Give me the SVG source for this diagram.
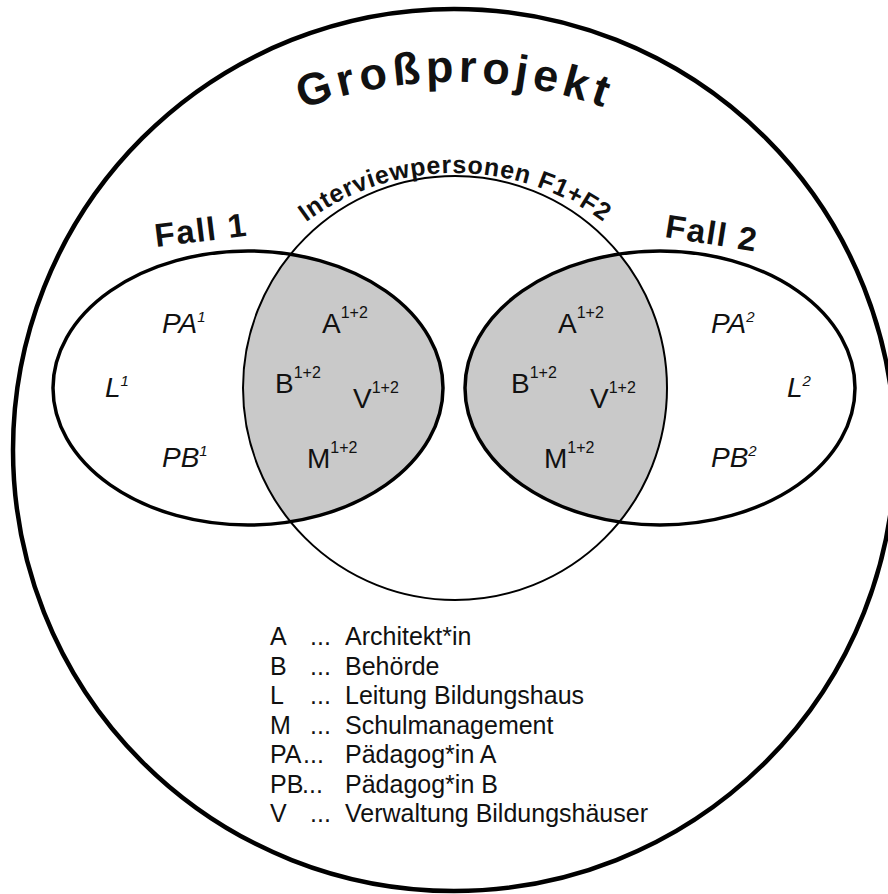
<svg xmlns="http://www.w3.org/2000/svg" width="888" height="894" viewBox="0 0 888 894">
<style>
.ln{fill:none;stroke:#000}
.t{font-family:"Liberation Sans",Arial,sans-serif;fill:#111}
.lab{font-size:28px}
.it{font-style:italic}
.sup{font-size:16px}
.isup{font-size:15px}
.leg{font-size:25px}
</style>
<defs>
<clipPath id="cl1"><ellipse cx="248" cy="388" rx="195" ry="137"/></clipPath>
<clipPath id="cl2"><ellipse cx="660" cy="388" rx="195" ry="137"/></clipPath>
<path id="arcG" d="M 5 532 A 450 450 0 0 1 905 532"/>
<path id="arcI" d="M 205 423 A 250 250 0 0 1 705 423"/>
</defs>
<rect width="888" height="894" fill="#fff"/>

<g id="shading">
<circle cx="455" cy="388" r="212" fill="#c9c9c9" clip-path="url(#cl1)"/>
<circle cx="455" cy="388" r="212" fill="#c9c9c9" clip-path="url(#cl2)"/>
</g>

<g id="grossprojekt">
<circle class="ln" cx="454" cy="450" r="441" stroke-width="4.5"/>
<text class="t" font-size="45" font-weight="bold" letter-spacing="5" text-anchor="middle"><textPath href="#arcG" startOffset="50%">Großprojekt</textPath></text>
</g>

<g id="interviewpersonen">
<circle class="ln" cx="455" cy="388" r="212" stroke-width="2"/>
<text class="t" font-size="25" font-weight="bold" letter-spacing="0.8" text-anchor="middle"><textPath href="#arcI" startOffset="50%">Interviewpersonen F1+F2</textPath></text>
</g>

<g id="fall1">
<ellipse class="ln" cx="248" cy="388" rx="195" ry="137" stroke-width="3.5"/>
<text class="t" font-size="33" font-weight="bold" letter-spacing="1.5" transform="translate(156 247) rotate(-7)">Fall 1</text>
<text class="t lab it" x="162" y="333">PA<tspan class="isup" dy="-11">1</tspan></text>
<text class="t lab it" x="105" y="397">L<tspan class="isup" dy="-11">1</tspan></text>
<text class="t lab it" x="162" y="467">PB<tspan class="isup" dy="-11">1</tspan></text>
</g>

<g id="fall2">
<ellipse class="ln" cx="660" cy="388" rx="195" ry="137" stroke-width="3.5"/>
<text class="t" font-size="33" font-weight="bold" letter-spacing="1.5" transform="translate(664 237) rotate(9)">Fall 2</text>
<text class="t lab it" x="711" y="333">PA<tspan class="isup" dy="-11">2</tspan></text>
<text class="t lab it" x="787" y="397">L<tspan class="isup" dy="-11">2</tspan></text>
<text class="t lab it" x="711" y="467">PB<tspan class="isup" dy="-11">2</tspan></text>
</g>

<g id="overlap1">
<text class="t lab" x="322" y="333">A<tspan class="sup" dy="-15">1+2</tspan></text>
<text class="t lab" x="275" y="393">B<tspan class="sup" dy="-15">1+2</tspan></text>
<text class="t lab" x="353" y="408">V<tspan class="sup" dy="-15">1+2</tspan></text>
<text class="t lab" x="307" y="468">M<tspan class="sup" dy="-15">1+2</tspan></text>
</g>

<g id="overlap2">
<text class="t lab" x="558" y="333">A<tspan class="sup" dy="-15">1+2</tspan></text>
<text class="t lab" x="511" y="393">B<tspan class="sup" dy="-15">1+2</tspan></text>
<text class="t lab" x="590" y="408">V<tspan class="sup" dy="-15">1+2</tspan></text>
<text class="t lab" x="544" y="468">M<tspan class="sup" dy="-15">1+2</tspan></text>
</g>

<g id="legend" class="t leg">
<text x="270" y="645">A</text><text x="310" y="645">...</text><text x="345" y="645">Architekt*in</text>
<text x="270" y="674.5">B</text><text x="310" y="674.5">...</text><text x="345" y="674.5">Behörde</text>
<text x="270" y="704">L</text><text x="310" y="704">...</text><text x="345" y="704">Leitung Bildungshaus</text>
<text x="270" y="733.5">M</text><text x="310" y="733.5">...</text><text x="345" y="733.5">Schulmanagement</text>
<text x="270" y="763">PA</text><text x="303" y="763">...</text><text x="345" y="763">Pädagog*in A</text>
<text x="270" y="792.5">PB</text><text x="302" y="792.5">...</text><text x="345" y="792.5">Pädagog*in B</text>
<text x="270" y="822">V</text><text x="310" y="822">...</text><text x="345" y="822">Verwaltung Bildungshäuser</text>
</g>

<g id="connectors"/>
</svg>
